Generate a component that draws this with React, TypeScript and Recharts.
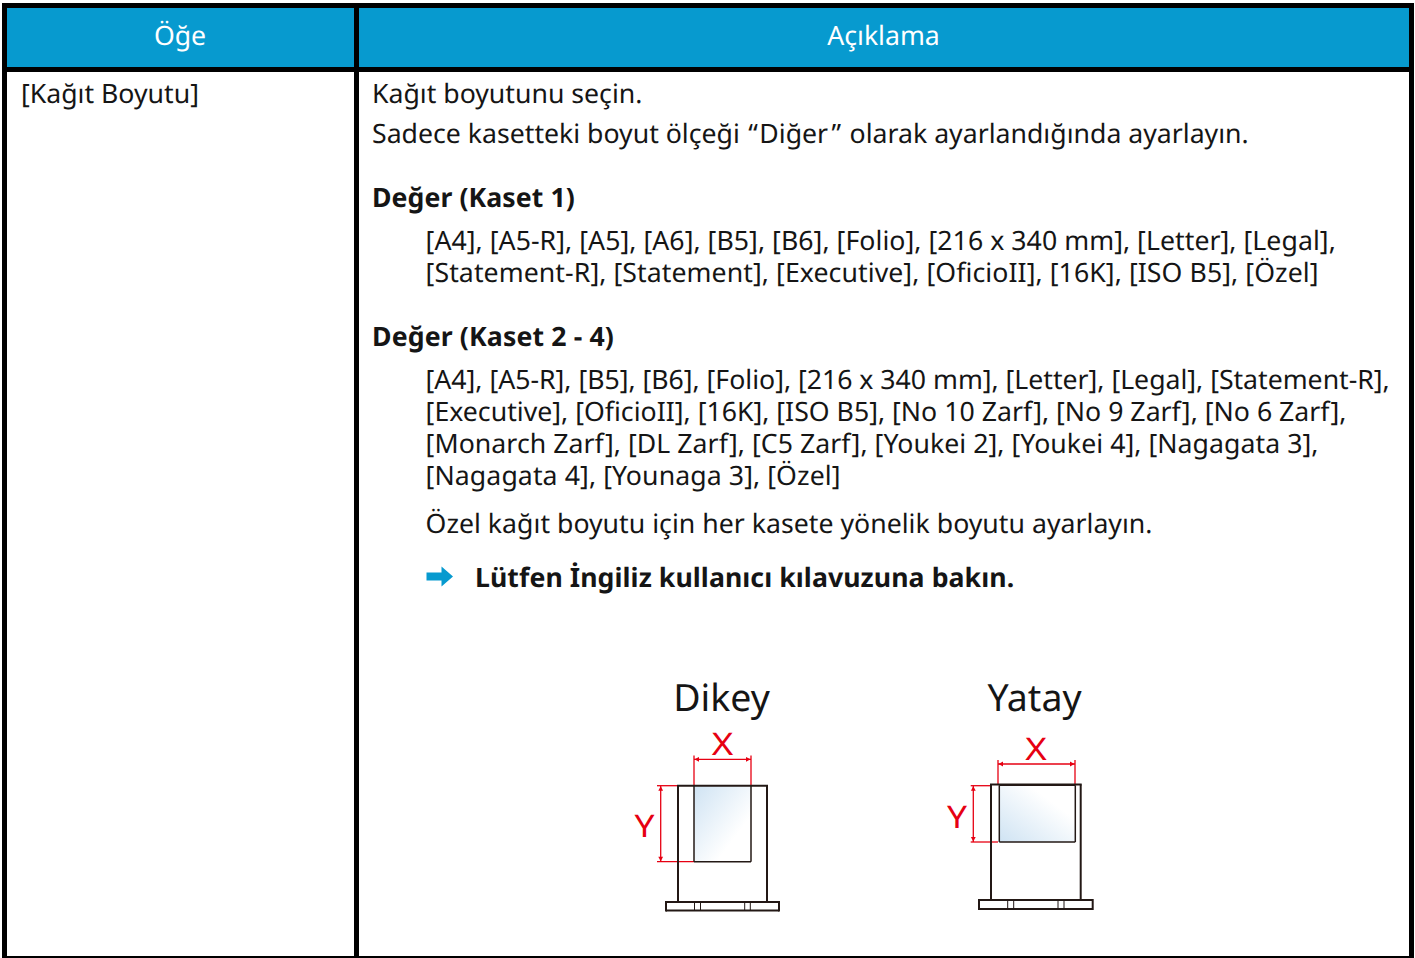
import { ReferenceArea, ReferenceLine, Scatter, ScatterChart, XAxis, YAxis } from 'recharts'

const WIDTH = 1415
const HEIGHT = 958
const FONT = '"Noto Sans", sans-serif'
const HEADER = '#079ACF'
const INK = '#151515'
const RED = '#E60012'
const BODY_LINE = '#231815'

// table content
const headers = ['Öğe', 'Açıklama']
const itemLabels = ['[Kağıt Boyutu]']
const introLines = [
  'Kağıt boyutunu seçin.',
  'Sadece kasetteki boyut ölçeği “Diğer” olarak ayarlandığında ayarlayın.',
]
const kaset1Title = ['Değer (Kaset 1)']
const kaset1Lines = [
  '[A4], [A5-R], [A5], [A6], [B5], [B6], [Folio], [216 x 340 mm], [Letter], [Legal],',
  '[Statement-R], [Statement], [Executive], [OficioII], [16K], [ISO B5], [Özel]',
]
const kaset2Title = ['Değer (Kaset 2 - 4)']
const kaset2Lines = [
  '[A4], [A5-R], [B5], [B6], [Folio], [216 x 340 mm], [Letter], [Legal], [Statement-R],',
  '[Executive], [OficioII], [16K], [ISO B5], [No 10 Zarf], [No 9 Zarf], [No 6 Zarf],',
  '[Monarch Zarf], [DL Zarf], [C5 Zarf], [Youkei 2], [Youkei 4], [Nagagata 3],',
  '[Nagagata 4], [Younaga 3], [Özel]',
]
const customNote = ['Özel kağıt boyutu için her kasete yönelik boyutu ayarlayın.']
const seeAlso = ['Lütfen İngiliz kullanıcı kılavuzuna bakın.']
const figureTitles = ['Dikey', 'Yatay']
const figureAxes = ['X', 'Y']

type Label = {
  x: number
  y: number
  text: string
  size: number
  weight: number
  fill: string
  anchor: string
  fit?: number
  tracking: number
}

// extra = px a line runs wider in the reference than the font's natural width
const place = (
  lines: string[],
  x: number,
  ys: number[],
  extra: number[] = [],
  size = 26.67,
  weight = 400,
  fill = INK,
  anchor = 'start',
  fit?: number,
): Label[] =>
  lines.map((text, i) => ({
    x,
    y: ys[i],
    text,
    size,
    weight,
    fill,
    anchor,
    fit,
    tracking: (extra[i] ?? 0) / text.length,
  }))

const labels: Label[] = [
  ...place([headers[0]], 180, [45], [], 26.67, 400, '#FFFFFF', 'middle'),
  ...place([headers[1]], 883.5, [45], [], 26.67, 400, '#FFFFFF', 'middle'),
  ...place(itemLabels, 21, [103]),
  ...place(introLines, 372, [103, 143]),
  ...place(kaset1Title, 372, [207], [1], 26.67, 700),
  ...place(kaset1Lines, 425.6, [250, 282], [4, 6]),
  ...place(kaset2Title, 372, [346], [2.5], 26.67, 700),
  ...place(kaset2Lines, 425.6, [389, 421, 453, 485], [-1, 1, 4, 3]),
  ...place(customNote, 425.6, [533], [1]),
  ...place(seeAlso, 475, [587], [3], 26.67, 700),
  ...place([figureTitles[0]], 721.5, [711], [], 37.5, 400, INK, 'middle'),
  ...place([figureTitles[1]], 1034.5, [711], [], 37.5, 400, INK, 'middle'),
  ...place([figureAxes[0]], 722.5, [754.5], [], 31, 400, RED, 'middle', 21.5),
  ...place([figureAxes[1]], 644.5, [837], [], 31, 400, RED, 'middle', 20),
  ...place([figureAxes[0]], 1036, [759.5], [], 31, 400, RED, 'middle', 21.5),
  ...place([figureAxes[1]], 957, [828], [], 31, 400, RED, 'middle', 20),
]

// table frame: [x1, x2, y1, y2]
const frameBars = [
  [2, 1414, 3, 8],
  [2, 1414, 67, 72],
  [2, 1414, 956, 958],
  [2, 7, 3, 958],
  [354, 359, 3, 958],
  [1409, 1414, 3, 958],
]

// printer outlines: [x1, y1, x2, y2]
const bodySegments = [
  [677, 785.7, 768, 785.7],
  [678, 785.7, 678, 902],
  [767, 785.7, 767, 902],
  [666, 902, 779, 902],
  [666, 910.5, 779, 910.5],
  [666, 901, 666, 911.5],
  [779, 901, 779, 911.5],
  [990, 784.5, 1081.7, 784.5],
  [991, 784.5, 991, 900],
  [1080.7, 784.5, 1080.7, 900],
  [979, 900, 1092.7, 900],
  [979, 909, 1092.7, 909],
  [979, 899, 979, 910],
  [1092.7, 899, 1092.7, 910],
]

const paperSegments = [
  [694, 785.7, 694, 861.7],
  [751, 785.7, 751, 861.7],
  [694, 861.7, 751, 861.7],
  [999.3, 785.3, 1075.3, 785.3],
  [999.3, 785.3, 999.3, 842],
  [1075.3, 785.3, 1075.3, 842],
  [999.3, 842, 1075.3, 842],
]

const baseTicks = [
  [694.5, 902, 694.5, 910.5],
  [700.5, 902, 700.5, 910.5],
  [744.7, 902, 744.7, 910.5],
  [750.3, 902, 750.3, 910.5],
  [1007.7, 900, 1007.7, 909],
  [1013.7, 900, 1013.7, 909],
  [1058, 900, 1058, 909],
  [1064, 900, 1064, 909],
]

const redSegments = [
  [694, 755.5, 694, 785.7],
  [751, 755.5, 751, 785.7],
  [694, 759.3, 751, 759.3],
  [657, 785.7, 678, 785.7],
  [657, 861.7, 694, 861.7],
  [660.7, 785.7, 660.7, 861.7],
  [998, 760, 998, 784],
  [1075, 760, 1075, 784],
  [998, 764, 1075, 764],
  [970.7, 785.7, 991, 785.7],
  [970.7, 842, 998, 842],
  [973.3, 785.7, 973.3, 842],
]

const arrowTips = [
  { x: 694.5, y: 759.3, angle: 180 },
  { x: 750.5, y: 759.3, angle: 0 },
  { x: 660.7, y: 786.2, angle: 270 },
  { x: 660.7, y: 861.2, angle: 90 },
  { x: 998.5, y: 764, angle: 180 },
  { x: 1074.5, y: 764, angle: 0 },
  { x: 973.3, y: 786.2, angle: 270 },
  { x: 973.3, y: 841.5, angle: 90 },
]

const seeAlsoArrow = [{ x: 453, y: 576.5 }]

function TextMark(props: any) {
  const { cx, cy, payload } = props
  // the curly quotes sit further from their neighbours in the reference
  const parts = String(payload.text).split(/([“”])/)
  return (
    <text
      x={cx}
      y={cy}
      fontFamily={FONT}
      fontSize={payload.size}
      fontWeight={payload.weight}
      fill={payload.fill}
      textAnchor={payload.anchor}
      textRendering="geometricPrecision"
      letterSpacing={payload.tracking || undefined}
      textLength={payload.fit}
      lengthAdjust={payload.fit ? 'spacingAndGlyphs' : undefined}
    >
      {parts.map((part, i) =>
        part === '“' ? (
          <tspan key={i} dx={1.5} letterSpacing={1.5}>
            {part}
          </tspan>
        ) : part === '”' ? (
          <tspan key={i} dx={3.5} letterSpacing={1.5}>
            {part}
          </tspan>
        ) : (
          part
        ),
      )}
    </text>
  )
}

function ArrowHead(props: any) {
  const { cx, cy, payload } = props
  return <path d="M0 0 L-4.5 -2.4 L-4.5 2.4 Z" fill={RED} transform={`translate(${cx} ${cy}) rotate(${payload.angle})`} />
}

function LinkArrow(props: any) {
  const { cx, cy } = props
  return (
    <path
      d="M0 0 L-11.5 -10 L-11.5 -4 L-26.5 -4 L-26.5 4 L-11.5 4 L-11.5 10 Z"
      fill={HEADER}
      transform={`translate(${cx} ${cy})`}
    />
  )
}

function segments(list: number[][], stroke: string, strokeWidth: number) {
  return list.map(([x1, y1, x2, y2], i) => (
    <ReferenceLine
      key={`${stroke}-${strokeWidth}-${i}`}
      segment={[{ x: x1, y: y1 }, { x: x2, y: y2 }]}
      stroke={stroke}
      strokeWidth={strokeWidth}
    />
  ))
}

function App() {
  return (
    <div style={{ position: 'absolute', left: 0, top: 0, width: WIDTH, height: HEIGHT, background: '#fff' }}>
      <ScatterChart width={WIDTH} height={HEIGHT} margin={{ top: 0, right: 0, bottom: 0, left: 0 }}>
        <defs>
          <linearGradient id="paperPortrait" x1="0" y1="0" x2="1" y2="1">
            <stop offset="0%" stopColor="#CFE3F3" />
            <stop offset="70%" stopColor="#FFFFFF" />
          </linearGradient>
          <linearGradient id="paperLandscape" x1="0" y1="1" x2="1" y2="0">
            <stop offset="0%" stopColor="#CFE3F3" />
            <stop offset="70%" stopColor="#FFFFFF" />
          </linearGradient>
        </defs>
        <XAxis type="number" dataKey="x" domain={[0, WIDTH]} hide allowDataOverflow />
        <YAxis type="number" dataKey="y" domain={[0, HEIGHT]} reversed hide allowDataOverflow />

        <ReferenceArea x1={7} x2={354} y1={8} y2={67} fill={HEADER} fillOpacity={1} stroke="none" />
        <ReferenceArea x1={359} x2={1409} y1={8} y2={67} fill={HEADER} fillOpacity={1} stroke="none" />
        {frameBars.map(([x1, x2, y1, y2], i) => (
          <ReferenceArea key={i} x1={x1} x2={x2} y1={y1} y2={y2} fill="#000" fillOpacity={1} stroke="none" />
        ))}

        <ReferenceArea x1={694} x2={751} y1={785.7} y2={861.7} fill="url(#paperPortrait)" fillOpacity={1} stroke="none" />
        <ReferenceArea x1={999.3} x2={1075.3} y1={785.3} y2={842} fill="url(#paperLandscape)" fillOpacity={1} stroke="none" />

        {segments(redSegments, RED, 1.3)}
        {segments(bodySegments, BODY_LINE, 2)}
        {segments(paperSegments, BODY_LINE, 1.5)}
        {segments(baseTicks, BODY_LINE, 1)}

        <Scatter data={arrowTips} shape={ArrowHead} isAnimationActive={false} />
        <Scatter data={seeAlsoArrow} shape={LinkArrow} isAnimationActive={false} />
        <Scatter data={labels} shape={TextMark} isAnimationActive={false} />
      </ScatterChart>
    </div>
  )
}

export default App
